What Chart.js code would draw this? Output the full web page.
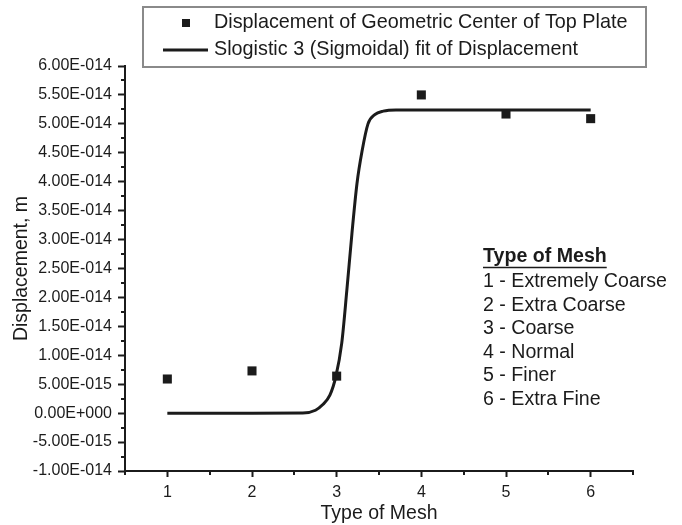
<!DOCTYPE html>
<html>
<head>
<meta charset="utf-8">
<script src="https://cdn.jsdelivr.net/npm/chart.js@4.4.0/dist/chart.umd.min.js"></script>
<style>
  html, body { margin: 0; padding: 0; background: #fff; }
  #wrap { width: 682px; height: 525px; }
</style>
</head>
<body>
<div id="wrap"><canvas id="meshChart" width="682" height="525"></canvas></div>
<script>
// measured points
const meshTypes = [1, 2, 3, 4, 5, 6];
const displacement = [5.9e-15, 7.3e-15, 6.4e-15, 5.5e-14, 5.17e-14, 5.09e-14];

// fit curve
const fitX = [1, 2, 2.6, 2.75, 2.83, 2.92, 2.99, 3.06, 3.12, 3.18, 3.24, 3.30, 3.37, 3.45, 3.55, 3.7, 4, 5, 6];
const fitY = [0, 0, 1e-17, 5e-16, 1.4e-15, 3.1e-15, 6.3e-15, 1.21e-14, 2.12e-14, 3.10e-14, 3.97e-14, 4.53e-14, 5.0e-14, 5.16e-14, 5.22e-14, 5.24e-14, 5.24e-14, 5.24e-14, 5.24e-14];

const xTicks = [1, 2, 3, 4, 5, 6];
const yTicks = [-1e-14, -5e-15, 0, 5e-15, 1e-14, 1.5e-14, 2e-14, 2.5e-14, 3e-14, 3.5e-14, 4e-14, 4.5e-14, 5e-14, 5.5e-14, 6e-14];

const meshNames = ['1 - Extremely Coarse', '2 - Extra Coarse', '3 - Coarse', '4 - Normal', '5 - Finer', '6 - Extra Fine'];

const FONT = "'Liberation Sans', Arial, sans-serif";
const INK = '#1b1b1b';

function sci(v) {
    if (Math.abs(v) < 1e-30) return '0.00E+000';
    let exp = Math.floor(Math.log10(Math.abs(v)));
    let man = v / Math.pow(10, exp);
    if (Math.abs(Math.round(man * 100) / 100) >= 10) { exp += 1; man = v / Math.pow(10, exp); }
    const sign = exp < 0 ? '-' : '+';
    return man.toFixed(2) + 'E' + sign + String(Math.abs(exp)).padStart(3, '0');
}

// minor ticks half way between the major ones
const minorTicks = {
    id: 'minorTicks',
    afterDraw(chart) {
        const ctx = chart.ctx;
        ctx.save();
        ctx.strokeStyle = INK;
        ctx.lineWidth = 2;
        const x = chart.scales.x, y = chart.scales.y;
        const xs = [];
        for (let i = 0; i < xTicks.length; i++) {
            xs.push(xTicks[i] - 0.5);
        }
        xs.push(xTicks[xTicks.length - 1] + 0.5);
        xs.forEach(v => {
            const px = Math.round(x.getPixelForValue(v));
            ctx.beginPath();
            ctx.moveTo(px, x.top);
            ctx.lineTo(px, x.top + 4);
            ctx.stroke();
        });
        for (let i = 0; i < yTicks.length - 1; i++) {
            const py = Math.round(y.getPixelForValue((yTicks[i] + yTicks[i + 1]) / 2));
            ctx.beginPath();
            ctx.moveTo(y.right, py);
            ctx.lineTo(y.right - 4, py);
            ctx.stroke();
        }
        ctx.restore();
    }
};

// boxed legend on top and the mesh key on the right
const notes = {
    id: 'notes',
    afterDraw(chart) {
        const ctx = chart.ctx;
        ctx.save();
        ctx.strokeStyle = '#8a8a8a';
        ctx.lineWidth = 2;
        ctx.strokeRect(143, 7, 503, 60);

        ctx.fillStyle = INK;
        ctx.fillRect(182, 19, 8, 8);
        ctx.strokeStyle = INK;
        ctx.lineWidth = 3;
        ctx.beginPath();
        ctx.moveTo(163, 50);
        ctx.lineTo(208, 50);
        ctx.stroke();

        ctx.font = '19.8px ' + FONT;
        ctx.textBaseline = 'middle';
        ctx.textAlign = 'left';
        ctx.fillText(chart.data.datasets[0].label, 214, 23);
        ctx.fillText(chart.data.datasets[1].label, 214, 50);

        ctx.font = 'bold 19.6px ' + FONT;
        const head = 'Type of Mesh';
        ctx.fillText(head, 483, 257);
        const w = ctx.measureText(head).width;
        ctx.lineWidth = 1.5;
        ctx.beginPath();
        ctx.moveTo(483, 267.5);
        ctx.lineTo(483 + w, 267.5);
        ctx.stroke();

        ctx.font = '19.6px ' + FONT;
        meshNames.forEach((t, i) => {
            ctx.fillText(t, 483, 281.5 + i * 23.6);
        });
        ctx.restore();
    }
};

const ctx = document.getElementById('meshChart').getContext('2d');
new Chart(ctx, {
    type: 'scatter',
    data: {
        datasets: [{
            label: 'Displacement of Geometric Center of Top Plate',
            data: meshTypes.map((m, i) => ({ x: m, y: displacement[i] })),
            pointStyle: 'rect',
            pointRadius: 6.4,
            pointHoverRadius: 6.4,
            backgroundColor: INK,
            borderColor: INK,
            borderWidth: 0,
            order: 1
        }, {
            label: 'Slogistic 3 (Sigmoidal) fit of Displacement',
            type: 'line',
            data: fitX.map((v, i) => ({ x: v, y: fitY[i] })),
            borderColor: INK,
            borderWidth: 3,
            pointRadius: 0,
            fill: false,
            cubicInterpolationMode: 'monotone',
            order: 2
        }]
    },
    options: {
        responsive: false,
        animation: false,
        layout: { padding: { top: 66, right: 49, left: 0, bottom: 0 } },
        plugins: {
            legend: { display: false },
            tooltip: { enabled: false }
        },
        scales: {
            x: {
                type: 'linear',
                min: 0.5,
                max: 6.5,
                afterBuildTicks: s => { s.ticks = xTicks.map(v => ({ value: v })); },
                afterFit: s => { s.height = 54; },
                grid: { drawOnChartArea: false, tickLength: 6, tickWidth: 2, tickColor: INK },
                border: { display: true, color: INK, width: 2 },
                ticks: { color: INK, font: { family: FONT, size: 16 }, padding: 6, maxRotation: 0 },
                title: { display: true, text: 'Type of Mesh', color: INK, font: { family: FONT, size: 19.5 }, padding: { top: 0, bottom: 0 } }
            },
            y: {
                type: 'linear',
                min: -1e-14,
                max: 6e-14,
                afterBuildTicks: s => { s.ticks = yTicks.map(v => ({ value: v })); },
                afterFit: s => { s.width = 125; },
                grid: { drawOnChartArea: false, tickLength: 7, tickWidth: 2, tickColor: INK },
                border: { display: true, color: INK, width: 2 },
                ticks: { color: INK, font: { family: FONT, size: 16 }, padding: 6, callback: v => sci(v) },
                title: { display: true, text: 'Displacement, m', color: INK, font: { family: FONT, size: 19.5 }, padding: { top: 10, bottom: 0 } }
            }
        }
    },
    plugins: [minorTicks, notes]
});
</script>
</body>
</html>
